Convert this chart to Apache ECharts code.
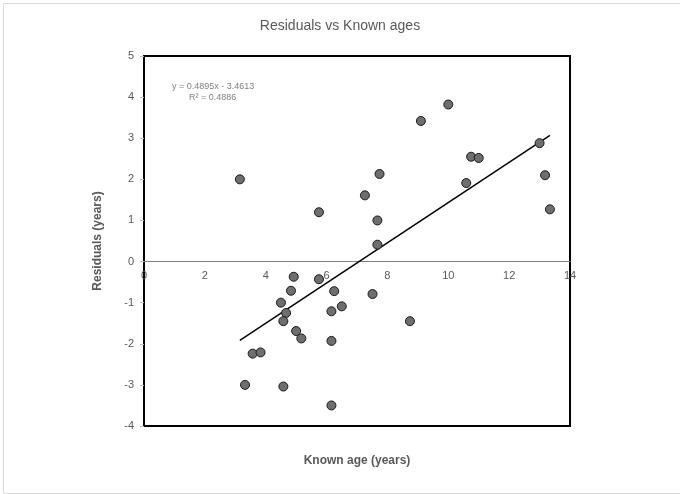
<!DOCTYPE html>
<html><head><meta charset="utf-8">
<script src="https://cdn.jsdelivr.net/npm/echarts@6/dist/echarts.min.js"></script>
<style>html,body{margin:0;padding:0;background:#fff}#c{width:680px;height:494px}</style>
</head><body><div id="c"></div>
<script>
const knownAge = [3.15,5.75,7.26,7.74,7.67,7.67,10.59,10.75,11.0,13.0,13.18,13.34,4.92,5.75,10.0,9.1,4.83,6.25,7.51,4.50,4.67,6.16,6.50,4.58,8.74,5.0,5.17,6.16,3.57,3.83,3.32,4.58,6.16];
const residuals = [2.0,1.20,1.61,2.13,1.0,0.41,1.91,2.55,2.52,2.88,2.10,1.27,-0.37,-0.43,3.82,3.42,-0.71,-0.72,-0.79,-1.0,-1.25,-1.21,-1.09,-1.45,-1.45,-1.69,-1.87,-1.93,-2.24,-2.21,-3.0,-3.04,-3.50];
const trendX = [3.15, 13.34];
const trendY = [-1.92, 3.07];
const xTicks = [0,2,4,6,8,10,12,14];
const yTicks = [-4,-3,-2,-1,0,1,2,3,4,5];
const equationText = 'y = 0.4895x - 3.4613';
const r2Text = 'R² = 0.4886';
const xName = 'Known age (years)';

const gridTop = 56, gridBottom = 68, H = 494;
const gridH = H - gridTop - gridBottom;
const yMin = yTicks[0], yMax = yTicks[yTicks.length-1];
const zeroOffset = -((0 - yMin) / (yMax - yMin)) * gridH;

const chart = echarts.init(document.getElementById('c'), null, {renderer:'canvas'});
const gray = '#595959';
chart.setOption({
  animation:false,
  backgroundColor:'#fff',
  title:{text:'Residuals vs Known ages', left:'center', top:14,
    textStyle:{fontFamily:'Liberation Sans, Arial', fontSize:14, fontWeight:'normal', color:gray}},
  grid:{left:144, right:110, top:gridTop, bottom:gridBottom, show:true, borderColor:'#000', borderWidth:2,
    backgroundColor:'transparent', containLabel:false, outerBoundsMode:'none'},
  xAxis:{type:'value', min:xTicks[0], max:xTicks[xTicks.length-1], interval:2,
    position:'bottom', offset:zeroOffset,
    axisLine:{onZero:false, lineStyle:{color:'#808080', width:1}},
    axisTick:{show:false},
    axisLabel:{color:gray, fontFamily:'Liberation Sans, Arial', fontSize:11, margin:9},
    splitLine:{show:false}},
  yAxis:{type:'value', min:yMin, max:yMax, interval:1,
    name:'Residuals (years)', nameLocation:'middle', nameGap:40,
    nameTextStyle:{fontFamily:'Liberation Sans, Arial', fontSize:12, fontWeight:'bold', color:gray},
    axisLine:{show:true, onZero:false, lineStyle:{color:'#000', width:2}},
    axisTick:{show:true, inside:false, length:4, lineStyle:{color:'#bfbfbf'}},
    axisLabel:{color:gray, fontFamily:'Liberation Sans, Arial', fontSize:11, margin:10},
    splitLine:{show:false}},
  series:[
    {type:'line', data:trendX.map((x,i)=>[x,trendY[i]]), symbol:'none',
      lineStyle:{color:'#000', width:1.5}, z:3},
    {type:'scatter', data:knownAge.map((x,i)=>[x,residuals[i]]), symbol:'circle', symbolSize:9,
      itemStyle:{color:'#6e6e6e', borderColor:'#1a1a1a', borderWidth:1, opacity:1}, z:4}
  ],
  graphic:[
    {type:'rect', left:1, top:1, shape:{width:677, height:490}, style:{fill:'none', stroke:'#d9d9d9', lineWidth:1}, silent:true},
    {type:'text', left:172, top:82, style:{text:equationText, fill:'#7f7f7f', font:'9px Liberation Sans, Arial'}},
    {type:'text', left:189, top:93, style:{text:r2Text, fill:'#7f7f7f', font:'9px Liberation Sans, Arial'}},
    {type:'text', x:357, y:461, style:{text:xName, fill:gray, font:'bold 12px Liberation Sans, Arial', align:'center', verticalAlign:'middle'}}
  ]
});
</script></body></html>
